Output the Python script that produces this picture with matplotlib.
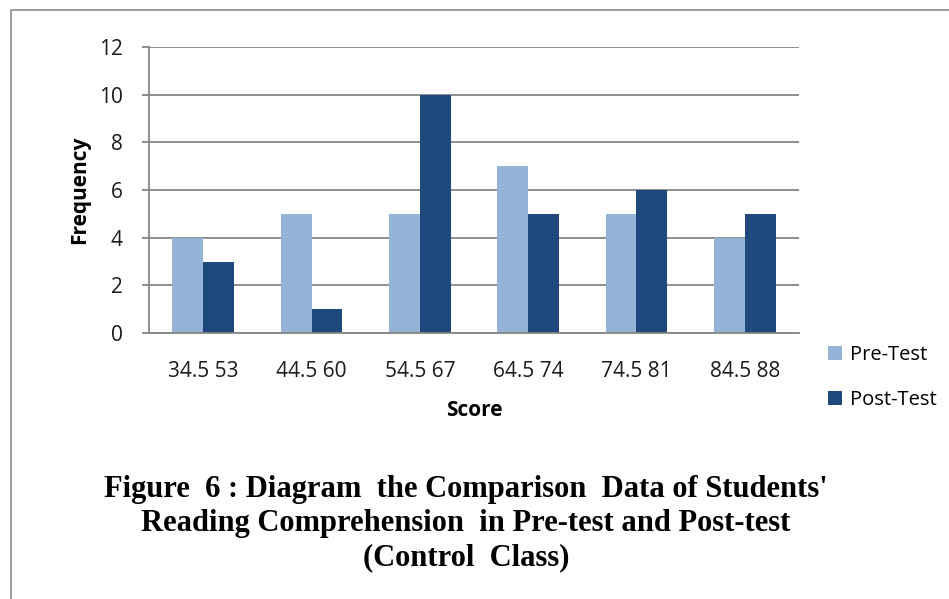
import matplotlib
matplotlib.use("Agg")
import matplotlib.pyplot as plt
import numpy as np
from matplotlib.patches import Rectangle, Patch

categories = ["34.5 53", "44.5 60", "54.5 67", "64.5 74", "74.5 81", "84.5 88"]
pre_test = [4, 5, 5, 7, 5, 4]
post_test = [3, 1, 10, 5, 6, 5]
series_names = ["Pre-Test", "Post-Test"]
caption_lines = [
    "Figure  6 : Diagram  the Comparison  Data of Students'",
    "Reading Comprehension  in Pre-test and Post-test",
    "(Control  Class)",
]

W, H = 949, 599
fig = plt.figure(figsize=(W / 100, H / 100), dpi=100)
fig.patch.set_facecolor("white")

# outer border
fig.patches.append(Rectangle((11 / W, -0.1), 1.2, (H - 10) / H + 0.1, transform=fig.transFigure,
                             fill=False, edgecolor="#8c8c8c", linewidth=1.2))

ax_l, ax_r, ax_t, ax_b = 149, 799, 47, 333
ax = fig.add_axes([ax_l / W, 1 - ax_b / H, (ax_r - ax_l) / W, (ax_b - ax_t) / H])

pre_c = "#95B3D7"
post_c = "#1F497D"
x = np.arange(len(categories))
w = 1 / 3.5
ax.bar(x - w / 2, pre_test, w, color=pre_c, zorder=3)
ax.bar(x + w / 2, post_test, w, color=post_c, zorder=3)

ax.set_xlim(-0.5, len(categories) - 0.5)
ax.set_ylim(0, 12)
ax.set_yticks(range(0, 13, 2))
ax.set_xticks(x)
ax.set_xticklabels(categories)
ax.yaxis.grid(True, color="#868686", linewidth=1.3, zorder=0)
for s in ["top", "right"]:
    ax.spines[s].set_visible(False)
ax.spines["left"].set_color("#868686")
ax.spines["left"].set_linewidth(1.3)
ax.spines["bottom"].set_color("#868686")
ax.spines["bottom"].set_linewidth(1.3)
ax.spines["bottom"].set_zorder(4)
ax.tick_params(axis="y", length=5, width=1.3, color="#868686", labelsize=15, pad=14)
ax.tick_params(axis="x", length=0, labelsize=15, pad=20)
for lab in ax.get_xticklabels() + ax.get_yticklabels():
    lab.set_fontfamily("Open Sans")
    lab.set_color("#1a1a1a")

ax.set_xlabel("Score", fontfamily="Open Sans", fontweight="bold", fontsize=15, va="center")
ax.set_ylabel("Frequency", fontfamily="Open Sans", fontweight="bold", fontsize=15, va="center")
pw, ph = ax_r - ax_l, ax_b - ax_t
ax.xaxis.set_label_coords(0.5, (ax_b - 411) / ph)
ax.yaxis.set_label_coords((80 - ax_l) / pw, 0.5)

handles = [Patch(facecolor=pre_c), Patch(facecolor=post_c)]
leg = fig.legend(handles, series_names, loc="upper left",
                 bbox_to_anchor=(810 / W, 1 - 327 / H), frameon=False,
                 prop={"family": "Open Sans", "size": 14.5},
                 handlelength=0.7, handleheight=0.7, handletextpad=0.4,
                 labelspacing=1.25)

ys = [490, 524, 558]
for line, yy in zip(caption_lines, ys):
    fig.text(466 / W, 1 - yy / H, line, ha="center", va="center",
             fontfamily="Liberation Serif", fontweight="bold", fontsize=22, color="black")

fig.savefig("out.png", dpi=100)
